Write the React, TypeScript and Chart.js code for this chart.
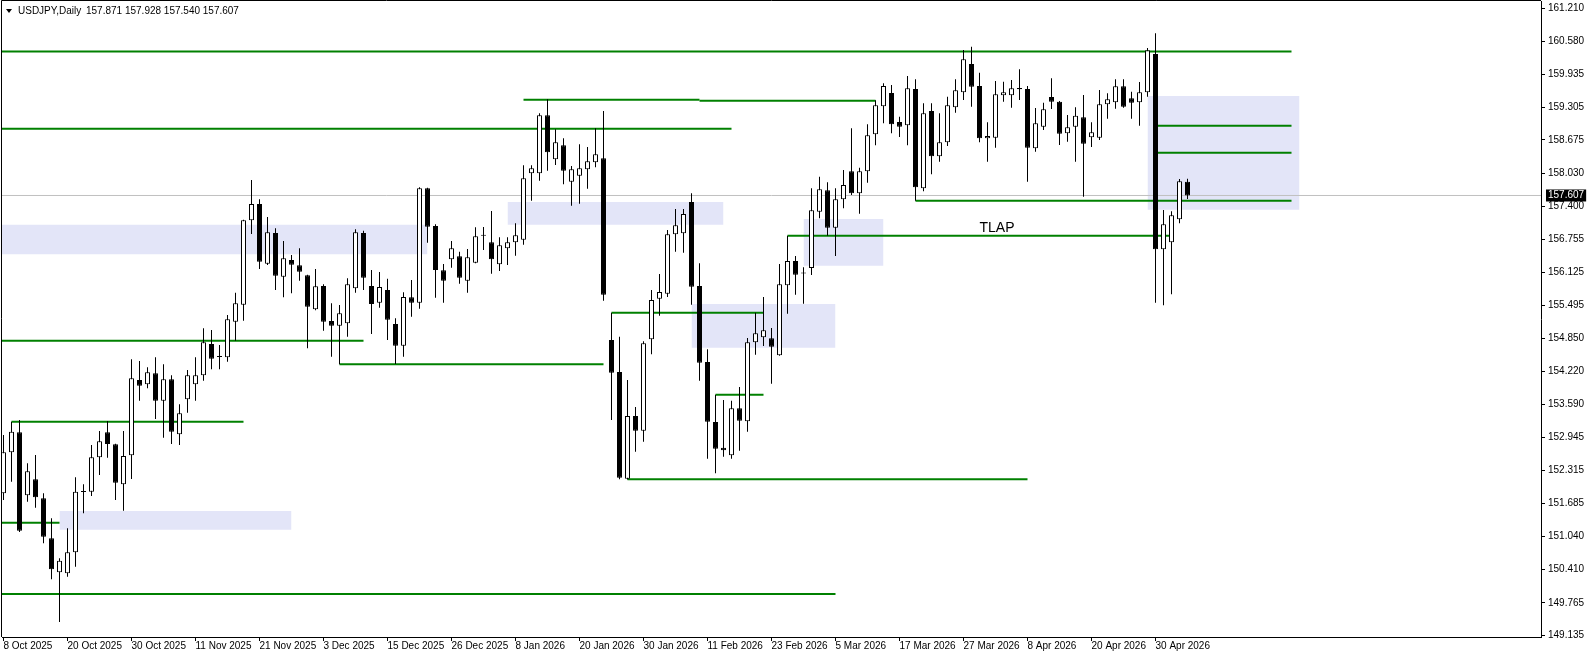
import React, { useEffect, useRef } from 'react';
import { Chart, registerables } from 'chart.js';

Chart.register(...registerables);

const symbolLabel = 'USDJPY,Daily';

const dateLabels = [
  '8 Oct 2025', '20 Oct 2025', '30 Oct 2025', '11 Nov 2025', '21 Nov 2025', '3 Dec 2025',
  '15 Dec 2025', '26 Dec 2025', '8 Jan 2026', '20 Jan 2026', '30 Jan 2026', '11 Feb 2026',
  '23 Feb 2026', '5 Mar 2026', '17 Mar 2026', '27 Mar 2026', '8 Apr 2026', '20 Apr 2026', '30 Apr 2026',
];
const LABEL_EVERY = 8;

const opens = [
  151.874, 152.664, 153.049, 151.836, 152.144, 151.778, 151.008, 150.354, 150.334, 150.739,
  151.900, 151.905, 152.567, 153.049, 152.820, 152.048, 152.606, 154.055, 153.973, 154.184,
  153.657, 154.069, 153.010, 153.684, 153.973, 154.146, 154.748, 154.498, 154.492, 155.178,
  155.505, 157.129, 157.443, 156.294, 156.885, 156.044, 156.365, 156.263, 156.071, 155.416,
  155.865, 155.191, 155.101, 155.147, 155.820, 156.885, 155.865, 155.543, 155.788, 155.133,
  154.716, 155.647, 155.543, 157.745, 157.020, 156.167, 156.379, 156.436, 155.967, 156.313,
  156.852, 156.706, 156.282, 156.590, 156.706, 156.756, 158.034, 158.034, 159.151, 158.304,
  158.573, 157.872, 157.988, 158.111, 158.246, 158.323, 154.825, 154.209, 152.155, 153.362,
  153.079, 154.839, 155.620, 155.717, 156.860, 156.879, 157.482, 155.865, 154.402, 153.247,
  152.752, 152.606, 153.510, 153.260, 154.781, 154.877, 154.858, 154.531, 155.878, 156.346,
  156.105, 156.211, 157.295, 157.707, 156.987, 157.534, 158.073, 157.649, 158.073, 158.785,
  159.324, 159.580, 159.022, 158.958, 159.657, 157.745, 159.233, 158.361, 158.631, 159.305,
  159.593, 160.138, 159.715, 158.708, 158.719, 159.536, 159.536, 159.676, 159.657, 158.515,
  158.931, 159.503, 159.412, 158.804, 158.931, 159.112, 158.727, 158.719, 159.362, 159.401,
  159.709, 159.478, 159.401, 159.593, 160.331, 156.571, 156.706, 157.149, 157.871,
];
const highs = [
  152.997, 153.253, 153.285, 152.452, 152.612, 151.874, 151.393, 150.623, 151.201, 152.182,
  152.048, 152.804, 153.074, 153.266, 152.830, 153.074, 154.454, 154.421, 154.300, 154.492,
  154.358, 154.146, 153.588, 154.248, 154.492, 155.051, 155.018, 154.729, 155.307, 155.736,
  157.140, 157.905, 157.534, 157.193, 156.975, 156.731, 156.461, 156.590, 156.080, 156.192,
  155.897, 155.532, 155.499, 156.013, 156.956, 156.929, 156.173, 156.134, 156.005, 155.243,
  155.743, 155.980, 157.765, 157.755, 157.052, 156.288, 156.731, 156.525, 156.577, 156.995,
  157.000, 157.308, 156.802, 156.802, 157.072, 158.188, 158.188, 159.189, 159.459, 158.881,
  158.708, 158.175, 158.592, 158.540, 158.900, 159.233, 155.351, 154.889, 154.055, 153.536,
  154.800, 155.788, 156.096, 156.943, 157.347, 157.347, 157.649, 156.302, 154.646, 153.772,
  153.670, 153.657, 153.921, 154.864, 155.351, 155.653, 155.056, 156.288, 156.833, 156.442,
  156.225, 157.745, 157.969, 157.861, 157.745, 158.098, 158.900, 158.142, 158.977, 159.439,
  159.767, 159.734, 159.124, 159.907, 159.844, 159.382, 159.382, 159.189, 159.509, 159.844,
  160.408, 160.471, 159.971, 159.016, 159.811, 159.797, 159.830, 160.036, 159.715, 159.291,
  159.393, 159.863, 159.426, 159.156, 159.305, 159.541, 159.016, 159.638, 159.574, 159.844,
  159.844, 159.605, 159.792, 160.446, 160.729, 157.328, 157.303, 157.924, 157.928,
];
const lows = [
  151.745, 152.098, 151.130, 151.713, 151.597, 150.912, 150.219, 149.397, 150.269, 150.461,
  151.489, 151.822, 152.227, 152.560, 151.745, 151.539, 152.150, 153.657, 153.896, 153.305,
  152.945, 152.823, 152.804, 153.426, 153.657, 154.042, 154.261, 154.261, 154.408, 154.812,
  155.197, 156.866, 156.192, 156.269, 155.788, 155.647, 155.724, 155.967, 154.665, 155.400,
  155.004, 154.504, 154.358, 154.889, 155.736, 155.788, 154.941, 155.447, 154.825, 154.363,
  154.504, 155.274, 155.428, 156.698, 155.639, 155.543, 156.217, 155.909, 155.736, 156.301,
  156.558, 156.102, 156.153, 156.269, 156.448, 156.660, 157.507, 157.892, 158.084, 158.194,
  157.822, 157.410, 157.449, 157.738, 158.150, 155.582, 153.285, 152.144, 152.140, 152.675,
  152.868, 154.550, 155.293, 155.653, 156.525, 156.506, 155.505, 154.042, 152.540, 152.259,
  152.579, 152.540, 152.694, 153.060, 154.542, 154.710, 153.984, 154.520, 155.332, 155.697,
  155.524, 156.076, 157.168, 156.833, 156.442, 157.360, 157.616, 157.256, 157.853, 158.573,
  158.997, 158.804, 158.733, 158.573, 157.507, 157.688, 158.015, 158.257, 158.560, 159.201,
  159.445, 159.316, 158.631, 158.257, 158.527, 159.412, 159.297, 159.445, 157.872, 158.450,
  158.868, 159.272, 158.579, 158.642, 158.257, 157.584, 158.540, 158.675, 159.085, 159.278,
  159.297, 159.085, 158.950, 159.509, 155.543, 155.493, 155.705, 157.072, 157.540,
];
const closes = [
  152.664, 153.060, 151.154, 152.298, 151.797, 151.039, 150.411, 150.577, 150.739, 151.905,
  151.910, 152.567, 152.875, 152.823, 152.078, 152.592, 154.088, 153.946, 154.204, 153.657,
  154.069, 153.060, 153.414, 154.146, 154.146, 154.781, 154.465, 154.508, 155.224, 155.532,
  157.129, 157.443, 156.332, 156.898, 156.063, 156.398, 156.275, 156.140, 155.466, 155.859,
  155.178, 155.101, 155.339, 155.897, 156.898, 156.024, 155.518, 155.846, 155.216, 154.716,
  155.653, 155.543, 157.745, 157.006, 156.173, 155.967, 156.590, 156.024, 156.417, 156.821,
  156.833, 156.379, 156.648, 156.706, 156.841, 157.938, 158.130, 159.151, 158.438, 158.631,
  158.084, 158.111, 158.130, 158.265, 158.400, 155.697, 154.196, 152.175, 153.362, 153.079,
  154.762, 155.595, 155.749, 156.860, 157.033, 157.251, 155.851, 154.388, 153.253, 152.733,
  152.702, 153.510, 153.272, 154.781, 154.954, 155.012, 154.696, 155.897, 156.346, 156.082,
  156.112, 157.322, 157.726, 156.987, 157.534, 157.809, 157.649, 158.073, 158.766, 159.343,
  159.715, 158.977, 158.931, 159.670, 157.765, 159.189, 158.361, 158.631, 159.343, 159.632,
  160.229, 159.701, 158.708, 158.752, 159.555, 159.593, 159.670, 159.651, 158.527, 158.997,
  159.266, 159.412, 158.796, 158.920, 159.143, 158.604, 158.823, 159.362, 159.459, 159.709,
  159.316, 159.393, 159.593, 160.402, 156.571, 157.052, 157.226, 157.880, 157.607,
];

const priceTicks = [
  161.21, 160.58, 159.935, 159.305, 158.675, 158.03, 157.4, 156.755, 156.125, 155.495,
  154.85, 154.22, 153.59, 152.945, 152.315, 151.685, 151.04, 150.41, 149.765, 149.135,
];
const bidPrice = closes[closes.length - 1];

// horizontal levels (bar index from, bar index to, price)
const levelFrom = [-2, -2, 65, 87, -2, 1, -2, -2, 42, 76, 89, 78, 98, 114, 144, 144];
const levelTo = [161, 91, 87, 109, 45, 30, 7, 104, 75, 95, 95, 128, 146, 161, 161, 161];
const levelPrice = [
  160.38, 158.892, 159.451, 159.431, 154.812, 153.252, 151.308, 149.936,
  154.357, 155.351, 153.772, 152.144, 156.833, 157.506, 158.95, 158.431,
];

// zones (bar index from, bar index to, top price, bottom price)
const zoneFrom = [-2, 63, 86, 100, 7, 143];
const zoneTo = [53, 90, 104, 110, 36, 162];
const zoneTop = [157.043, 157.481, 155.518, 157.154, 151.533, 159.522];
const zoneBottom = [156.475, 157.045, 154.677, 156.255, 151.173, 157.333];

const noteText = ['TLAP'];
const noteBar = [122];
const notePrice = [156.904];

const GREEN = '#008000';
const LAVENDER = '#E3E5F8';
const FONT = 'Liberation Sans, Arial, sans-serif';

const framePlugin = {
  id: 'frame',
  afterDatasetsDraw(chart: any) {
    const { ctx, chartArea } = chart;
    ctx.save();
    ctx.strokeStyle = '#000';
    ctx.lineWidth = 1;
    ctx.beginPath();
    ctx.moveTo(chartArea.left - 0.5, chartArea.bottom);
    ctx.lineTo(chartArea.left - 0.5, chartArea.top - 0.5);
    ctx.lineTo(chartArea.right, chartArea.top - 0.5);
    ctx.stroke();
    ctx.restore();
  },
};

const notesPlugin = {
  id: 'notes',
  afterDatasetsDraw(chart: any) {
    const { ctx } = chart;
    const xs = chart.scales.x;
    const ys = chart.scales.y;
    ctx.save();
    ctx.fillStyle = '#000';
    ctx.font = `14px ${FONT}`;
    ctx.textAlign = 'left';
    ctx.textBaseline = 'alphabetic';
    noteText.forEach((t, i) => {
      ctx.fillText(t, xs.getPixelForValue(noteBar[i]), ys.getPixelForValue(notePrice[i]));
    });
    ctx.restore();
  },
};

export default function App() {
  const canvasRef = useRef<HTMLCanvasElement>(null);

  useEffect(() => {
    document.body.style.margin = '0';
    const idx = opens.map((_, i) => i);

    const bodies: any = {
      type: 'bar',
      data: idx.map((i) => ({ x: i, y: [opens[i], closes[i]] })),
      backgroundColor: idx.map((i) => (closes[i] >= opens[i] ? '#ffffff' : '#000000')),
      borderColor: '#000000',
      borderWidth: 1,
      borderSkipped: false,
      barThickness: 5,
      minBarLength: 1,
      grouped: false,
      inflateAmount: 0,
      order: 0,
    };
    const wicks: any = {
      type: 'bar',
      data: idx.map((i) => ({ x: i, y: [lows[i], highs[i]] })),
      backgroundColor: '#000000',
      borderWidth: 0,
      barThickness: 1,
      grouped: false,
      inflateAmount: 0,
      order: 1,
    };
    const levels: any[] = levelPrice.map((p, i) => ({
      type: 'line',
      data: [{ x: levelFrom[i], y: p }, { x: levelTo[i], y: p }],
      borderColor: GREEN,
      borderWidth: 2,
      pointRadius: 0,
      fill: false,
      order: 2,
    }));
    const bidLine: any = {
      type: 'line',
      data: [{ x: -2, y: bidPrice }, { x: 200, y: bidPrice }],
      borderColor: '#C0C0C0',
      borderWidth: 1,
      pointRadius: 0,
      fill: false,
      order: 3,
    };
    const zones: any[] = zoneTop.map((t, i) => ({
      type: 'line',
      data: [{ x: zoneFrom[i], y: t }, { x: zoneTo[i], y: t }],
      borderWidth: 0,
      borderColor: 'rgba(0,0,0,0)',
      backgroundColor: LAVENDER,
      pointRadius: 0,
      fill: { value: zoneBottom[i] },
      order: 4,
    }));

    const chart = new Chart(canvasRef.current as HTMLCanvasElement, {
      type: 'bar',
      data: { datasets: [bodies, wicks, ...levels, bidLine, ...zones] },
      plugins: [framePlugin, notesPlugin],
      options: {
        responsive: false,
        maintainAspectRatio: false,
        devicePixelRatio: 1,
        animation: false,
        events: [],
        layout: { padding: { left: 2, top: 1, right: 0, bottom: 0 } },
        plugins: { legend: { display: false }, tooltip: { enabled: false } },
        scales: {
          x: {
            type: 'linear',
            position: 'bottom',
            min: -0.1875,
            max: 192.1875,
            offset: false,
            bounds: 'data',
            grid: { display: true, drawOnChartArea: false, drawTicks: true, tickLength: 4, color: '#000', offset: false },
            border: { display: true, color: '#000', width: 1 },
            ticks: {
              autoSkip: false,
              maxRotation: 0,
              minRotation: 0,
              align: 'start',
              padding: 0,
              color: '#000',
              font: { family: FONT, size: 10, lineHeight: 1 },
              callback: (v: any) => dateLabels[Math.round(Number(v) / LABEL_EVERY)] ?? '',
            },
            afterBuildTicks: (s: any) => {
              s.ticks = dateLabels.map((_, i) => ({ value: i * LABEL_EVERY }));
            },
            afterFit: (s: any) => {
              s.height = 22;
              s.paddingLeft = 0;
              s.paddingRight = 0;
            },
          },
          y: {
            type: 'linear',
            position: 'right',
            min: 149.108,
            max: 161.3506,
            beginAtZero: false,
            bounds: 'data',
            grid: {
              display: true,
              drawOnChartArea: false,
              drawTicks: true,
              tickLength: 4,
              color: (c: any) => (c.tick && c.tick.value === bidPrice ? 'rgba(0,0,0,0)' : '#000'),
            },
            border: { display: true, color: '#000', width: 1 },
            ticks: {
              autoSkip: false,
              padding: 3,
              font: { family: FONT, size: 10, lineHeight: 1.2 },
              color: (c: any) => (c.tick && c.tick.value === bidPrice ? '#fff' : '#000'),
              showLabelBackdrop: (c: any) => !!(c.tick && c.tick.value === bidPrice),
              backdropColor: '#000',
              backdropPadding: { left: 2, right: 2, top: 0, bottom: 0 },
              callback: (v: any) => Number(v).toFixed(3),
            },
            afterBuildTicks: (s: any) => {
              s.ticks = [...priceTicks, bidPrice].map((v) => ({ value: v }));
            },
            afterFit: (s: any) => {
              s.width = 51;
              s.paddingTop = 0;
              s.paddingBottom = 0;
            },
          },
        },
      } as any,
    });
    return () => chart.destroy();
  }, []);

  const last = opens.length - 1;
  const ohlc = [opens[last], highs[last], lows[last], closes[last]].map((v) => v.toFixed(3)).join(' ');

  return (
    <div style={{ position: 'absolute', left: 0, top: 0, width: 1592, height: 659, background: '#fff', overflow: 'hidden' }}>
      <canvas ref={canvasRef} width={1592} height={659} style={{ display: 'block', width: 1592, height: 659 }} />
      <div
        style={{
          position: 'absolute', left: 6, top: 9, width: 0, height: 0,
          borderLeft: '3px solid transparent', borderRight: '3px solid transparent', borderTop: '4px solid #000',
        }}
      />
      <div style={{ position: 'absolute', left: 18, top: 5, font: `10px ${FONT}`, lineHeight: '12px', color: '#000', whiteSpace: 'pre' }}>
        {symbolLabel}
      </div>
      <div style={{ position: 'absolute', left: 86, top: 5, font: `10px ${FONT}`, lineHeight: '12px', color: '#000', whiteSpace: 'pre' }}>
        {ohlc}
      </div>
    </div>
  );
}
